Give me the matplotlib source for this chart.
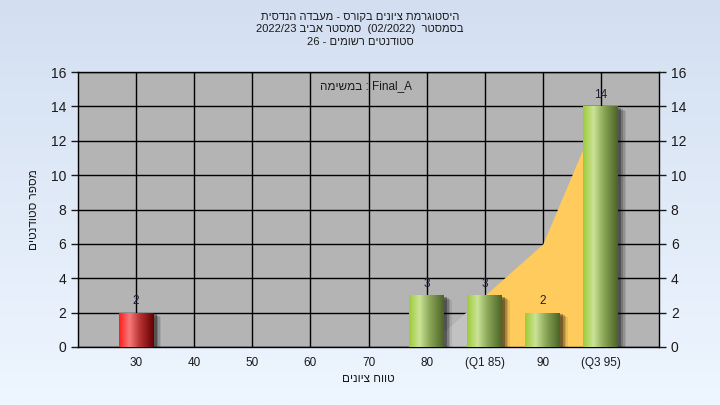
import numpy as np
import matplotlib
matplotlib.use('Agg')
import matplotlib.pyplot as plt
from matplotlib import patheffects as pe
from matplotlib.colors import LinearSegmentedColormap

plt.rcParams['font.family'] = ['Liberation Sans', 'DejaVu Sans']

# ---- data ----
categories = ["30", "40", "50", "60", "70", "80", "(Q1 85)", "90", "(Q3 95)"]
counts = [2, 0, 0, 0, 0, 3, 3, 2, 14]
area_values = [0, 0, 0, 0, 0, 0, 3, 6, 14]
q1_index = 6
q3_index = 8
yticks = [0, 2, 4, 6, 8, 10, 12, 14, 16]

# Hebrew text (stored in visual order for left-to-right rendering)
title_lines = [
    "תיסדנה הדבעמ - סרוקב םינויצ תמרגוטסיה",
    "2022/23 ביבא רטסמס  (02/2022)  רטסמסב",
    "26 - םימושר םיטנדוטס",
]
box_text = "המישמב : Final_A"
xlabel = "םינויצ חווט"
ylabel = "םיטנדוטס רפסמ"

fig = plt.figure(figsize=(7.2, 4.05), dpi=100)

# background gradient
bg = fig.add_axes([0, 0, 1, 1], zorder=-10)
grad = np.linspace(0, 1, 256).reshape(-1, 1)
bg_cmap = LinearSegmentedColormap.from_list('bg', ['#d3dff1', '#eef6ff'])
bg.imshow(grad, aspect='auto', cmap=bg_cmap, extent=[0, 1, 0, 1])
bg.set_axis_off()

ax = fig.add_axes([78 / 720, 58 / 405, 581 / 720, 275 / 405])
ax.set_facecolor('#b4b4b4')
ax.set_axisbelow(True)

x = np.arange(len(categories))

# area (gray before Q1, yellow from Q1 to Q3)
xa = np.array(x, dtype=float)
va = np.array(area_values, dtype=float)
m1 = (xa >= q1_index - 1) & (xa <= q1_index)
ax.fill_between(xa[m1], 0, va[m1], color='#c2c2c2', zorder=1.5, linewidth=0)
m2 = (xa >= q1_index) & (xa <= q3_index)
ax.fill_between(xa[m2], 0, va[m2], color='#ffcb5c', zorder=1.5, linewidth=0)

# bars with gradient
red_cmap = LinearSegmentedColormap.from_list(
    'r', [(0, '#ff1c1c'), (0.3, '#f67a7a'), (0.6, '#b83232'), (1, '#650000')])
green_cmap = LinearSegmentedColormap.from_list(
    'g', [(0, '#9ccb38'), (0.3, '#cbe397'), (0.6, '#8aa657'), (1, '#4d6425')])
hgrad = np.linspace(0, 1, 128).reshape(1, -1)

bar_width = 0.6
for i, v in enumerate(counts):
    if v <= 0:
        continue
    cmap = red_cmap if i == 0 else green_cmap
    bars = ax.bar(x[i], v, width=bar_width, facecolor='none', edgecolor='none', zorder=2)
    p = bars.patches[0]
    p.set_path_effects([
        pe.SimplePatchShadow(offset=(5.5, -3.0), shadow_rgbFace='black', alpha=0.08),
        pe.SimplePatchShadow(offset=(4.5, -2.4), shadow_rgbFace='black', alpha=0.12),
        pe.SimplePatchShadow(offset=(3.5, -1.8), shadow_rgbFace='black', alpha=0.18),
        pe.SimplePatchShadow(offset=(2.2, -1.0), shadow_rgbFace='black', alpha=0.3),
        pe.Normal(),
    ])
    im = ax.imshow(hgrad, cmap=cmap, aspect='auto',
                   extent=[p.get_x(), p.get_x() + p.get_width(), 0, v], zorder=3)
    im.set_clip_path(p)
    ax.text(x[i], v + 0.3, str(v), ha='center', va='bottom', fontsize=8.5,
            color='#1e1e3a', zorder=4)

ax.set_xlim(-1, len(categories))
ax.set_ylim(0, 16)
ax.set_xticks(x)
ax.set_xticklabels(categories, fontsize=8.5, color='#1a1a1a')
ax.set_yticks(yticks)
ax.tick_params(axis='y', labelsize=10, colors='#1a1a1a', length=5, width=1, direction='out')
ax.tick_params(axis='x', length=0, pad=7)
ax.grid(True, color='black', linewidth=1.0)
for s in ax.spines.values():
    s.set_color('black')
    s.set_linewidth(1.0)

ax2 = ax.twinx()
ax2.set_ylim(0, 16)
ax2.set_yticks(yticks)
ax2.tick_params(axis='y', labelsize=10, colors='#1a1a1a', length=5, width=1, direction='out')
for s in ax2.spines.values():
    s.set_visible(False)

ax.set_xlabel(xlabel, fontsize=8.5, color='#1a1a1a', labelpad=3)
ax.set_ylabel(ylabel, fontsize=8.5, color='#1a1a1a', labelpad=8)

ax.text(0.495, 0.95, box_text, transform=ax.transAxes, ha='center', va='center',
        fontsize=8.5, color='#1a1a1a', zorder=5)

for k, line in enumerate(title_lines):
    fig.text(360 / 720, (405 - 17 - 12.5 * k) / 405, line, ha='center', va='center',
             fontsize=8, color='#1a1a1a')

fig.savefig('out.png', dpi=100)
